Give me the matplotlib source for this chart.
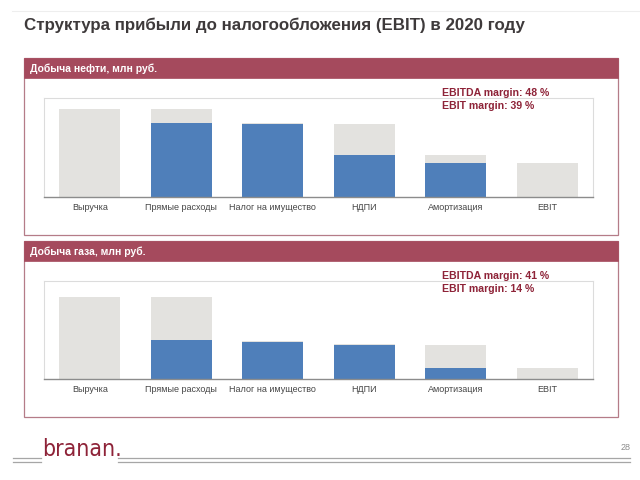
import matplotlib.pyplot as plt
from matplotlib.patches import Rectangle

plt.rcParams['font.family'] = ['Liberation Sans', 'DejaVu Sans']

categories = ["Выручка", "Прямые расходы", "Налог на имущество", "НДПИ", "Амортизация", "EBIT"]

oil_blue = [0, 84, 83, 48, 39, 0]
oil_grey = [100, 16, 1, 35, 9, 39]
oil_margins = ["EBITDA margin: 48 %", "EBIT margin: 39 %"]

gas_blue = [0, 47, 45, 41, 14, 0]
gas_grey = [100, 53, 1, 1.5, 27, 14]
gas_margins = ["EBITDA margin: 41 %", "EBIT margin: 14 %"]

BLUE = "#4F7FBA"
GREY = "#E3E2DF"
HEAD = "#A54A5D"
DARKRED = "#8E2338"

W, H = 640, 480
fig = plt.figure(figsize=(6.4, 4.8), dpi=100)

def box(x0, y0, x1, y1):
    # pixel box (top-left origin) -> figure fraction
    return [x0 / W, 1 - y1 / H, (x1 - x0) / W, (y1 - y0) / H]

def fx(x): return x / W
def fy(y): return 1 - y / H

# title and top rule
fig.add_artist(plt.Line2D([fx(12), fx(640)], [fy(11), fy(11)], color="#EEEEEE", lw=0.8))
fig.text(fx(24), fy(25), "Структура прибыли до налогообложения (EBIT) в 2020 году",
         fontsize=12.2, fontweight="bold", color="#3E3A3B", va="center", ha="left")

panels = [
    ("Добыча нефти, млн руб.", 58, 235, oil_blue, oil_grey, oil_margins, 97.7, 196.7, 113),
    ("Добыча газа, млн руб.", 241, 417, gas_blue, gas_grey, gas_margins, 280.7, 379, 120),
]

for name, top, bot, blue, grey, margins, ax_top, ax_bot, ymax in panels:
    fig.add_artist(Rectangle((fx(24), fy(bot)), (617.5 - 24) / W, (bot - top) / H,
                             transform=fig.transFigure, fill=False, ec="#B57C88", lw=0.9))
    fig.add_artist(Rectangle((fx(24), fy(top + 20)), (617.5 - 24) / W, 20 / H,
                             transform=fig.transFigure, fc=HEAD, ec=HEAD, lw=0.5))
    fig.text(fx(30), fy(top + 10.5), name, color="white", fontsize=7.5,
             fontweight="bold", va="center", ha="left")

    ax = fig.add_axes(box(44, ax_top, 593, ax_bot))
    x = range(len(categories))
    ax.bar(x, blue, width=0.67, color=BLUE, zorder=2)
    ax.bar(x, grey, width=0.67, bottom=blue, color=GREY, zorder=2)
    ax.set_xlim(-0.5, len(categories) - 0.5)
    ax.set_ylim(0, ymax)
    ax.set_yticks([])
    ax.set_xticks(list(x))
    ax.set_xticklabels(categories, fontsize=6.5, color="#454545")
    ax.tick_params(axis="x", length=0, pad=4.5)
    for s in ["top", "right", "left"]:
        ax.spines[s].set_color("#DCDCDC")
        ax.spines[s].set_linewidth(0.8)
    ax.spines["bottom"].set_color("#8C8C8C")
    ax.spines["bottom"].set_linewidth(1.0)

    fig.text(fx(442), fy(ax_top - 4.5), margins[0], color=DARKRED, fontsize=7.6,
             fontweight="bold", va="center", ha="left")
    fig.text(fx(442), fy(ax_top + 8), margins[1], color=DARKRED, fontsize=7.6,
             fontweight="bold", va="center", ha="left")

# footer
for y in (457.7, 462.3):
    fig.add_artist(plt.Line2D([fx(13), fx(41)], [fy(y), fy(y)], color="#A6A6A6", lw=0.9))
    fig.add_artist(plt.Line2D([fx(118), fx(630)], [fy(y), fy(y)], color="#A6A6A6", lw=0.9))
fig.text(fx(42), fy(455.7), "branan.", color=DARKRED, fontsize=16.5,
         family=["DejaVu Sans"], fontstretch="condensed", fontweight="light",
         va="baseline", ha="left")
fig.text(fx(631), fy(448), "28", color="#8C8C8C", fontsize=6.5, va="center", ha="right")

fig.savefig("out.png", dpi=100)
